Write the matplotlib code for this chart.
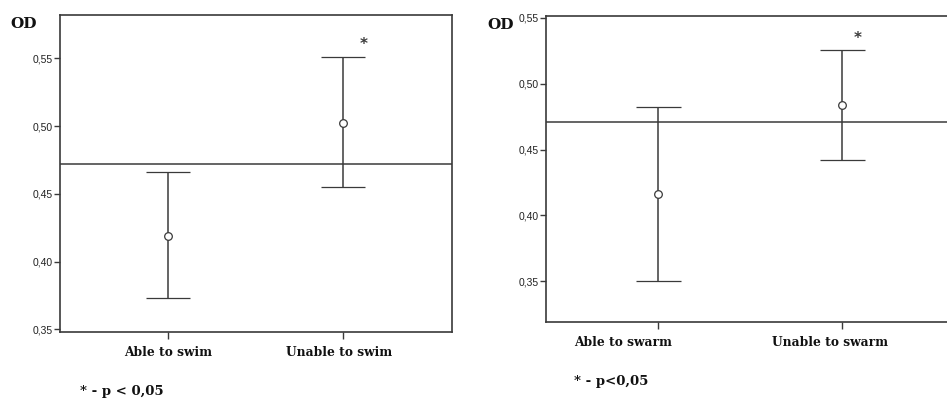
import numpy as np
import matplotlib.pyplot as plt
from matplotlib.transforms import ScaledTranslation

# data (mean and confidence interval of OD)
swim_labels = ["Able to swim", "Unable to swim"]
swim_mean = [0.419, 0.502]
swim_low = [0.373, 0.455]
swim_high = [0.466, 0.551]
swim_ref = 0.472

swarm_labels = ["Able to swarm", "Unable to swarm"]
swarm_mean = [0.416, 0.484]
swarm_low = [0.350, 0.442]
swarm_high = [0.482, 0.526]
swarm_ref = 0.471

yticks = [0.35, 0.40, 0.45, 0.50, 0.55]
ytick_labels = ["0,35", "0,40", "0,45", "0,50", "0,55"]

LINE = "#3a3a3a"
W, H = 947, 398


def panel(ax, labels, mean, low, high, ref, xlim, ylim, cap, star_off, label_shift):
    x = np.arange(1, len(mean) + 1)
    mean = np.array(mean)
    err = [mean - np.array(low), np.array(high) - mean]
    ax.errorbar(x, mean, yerr=err, fmt='o', color=LINE, ecolor=LINE, elinewidth=1.1,
                capsize=cap, capthick=1.1, ms=5.5, mfc='white', mec=LINE, mew=0.9, zorder=3)
    ax.axhline(ref, color=LINE, lw=1.1, zorder=2)
    ax.annotate("*", xy=(x[1], high[1]), xytext=star_off, textcoords='offset points',
                ha='center', va='center', fontsize=11, fontweight='bold', color=LINE,
                family='DejaVu Sans')
    ax.set_xlim(*xlim)
    ax.set_ylim(*ylim)
    ax.set_yticks(yticks)
    ax.set_yticklabels(ytick_labels, fontsize=7.5, family='Liberation Sans', color='#222222')
    ax.set_xticks(x)
    ax.set_xticklabels([])
    # category names, nudged sideways like in the original
    for xi, lab, dx in zip(x, labels, label_shift):
        tr = ax.get_xaxis_transform() + ScaledTranslation(dx / 72, -15 / 72, ax.figure.dpi_scale_trans)
        ax.text(xi, 0, lab, transform=tr, ha='center', va='center', fontsize=8.8,
                fontweight='bold', family='DejaVu Serif', color='#111111')
    ax.tick_params(axis='y', length=4, width=1, color=LINE, pad=1)
    ax.tick_params(axis='x', length=5, width=1, color=LINE)
    for s in ax.spines.values():
        s.set_color(LINE)
        s.set_linewidth(1.2)


fig = plt.figure(figsize=(W / 100, H / 100), dpi=100)

ax1 = fig.add_axes([60 / W, 1 - 332 / H, 392 / W, 317 / H])
panel(ax1, swim_labels, swim_mean, swim_low, swim_high, swim_ref,
      (0.383, 2.623), (0.348, 0.582), 15.6, (15, 9), [0, -3])

ax2 = fig.add_axes([546 / W, 1 - 322 / H, 408 / W, 306 / H])
panel(ax2, swarm_labels, swarm_mean, swarm_low, swarm_high, swarm_ref,
      (0.395, 2.605), (0.319, 0.5515), 16.2, (11, 8), [-25, -8.6])

fig.text(10 / W, 1 - 24 / H, "OD", fontsize=11, fontweight='bold', family='DejaVu Serif',
         va='center', color='#111111')
fig.text(487 / W, 1 - 25 / H, "OD", fontsize=11, fontweight='bold', family='DejaVu Serif',
         va='center', color='#111111')
fig.text(80 / W, 1 - 391 / H, "* - p < 0,05", fontsize=9.5, fontweight='bold',
         family='DejaVu Serif', va='center', color='#111111')
fig.text(574 / W, 1 - 381 / H, "* - p<0,05", fontsize=9.5, fontweight='bold',
         family='DejaVu Serif', va='center', color='#111111')

fig.savefig("out.png", dpi=100)
